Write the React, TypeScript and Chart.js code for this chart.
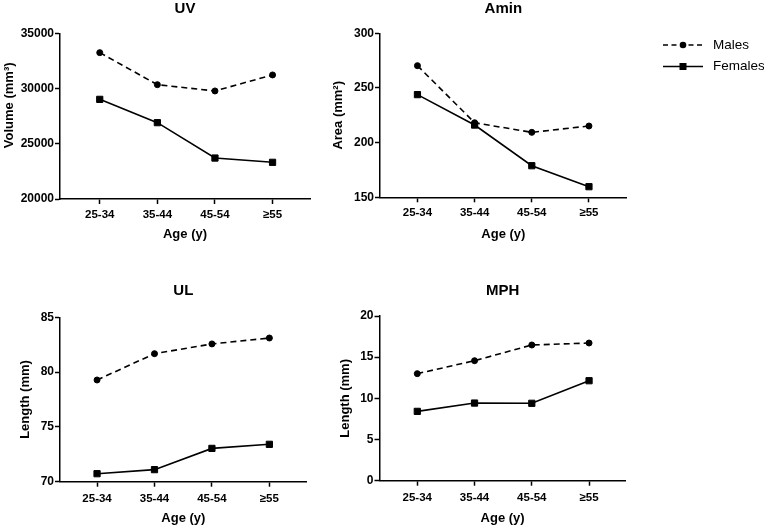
import React, { useEffect, useRef } from 'react';
import { Chart, registerables } from 'chart.js';

Chart.register(...registerables);

// ---- data ----
const ageGroups = ['25-34', '35-44', '45-54', '≥55'];

const uvMales = [33250, 30350, 29780, 31230];
const uvFemales = [29020, 26910, 23710, 23320];

const aminMales = [270.4, 218.2, 209.4, 215.2];
const aminFemales = [243.9, 216.1, 178.9, 159.7];

const ulMales = [79.28, 81.68, 82.57, 83.11];
const ulFemales = [70.73, 71.1, 73.04, 73.41];

const mphMales = [13.0, 14.57, 16.48, 16.72];
const mphFemales = [8.42, 9.43, 9.4, 12.14];

const seriesNames = ['Males', 'Females'];

// ---- layout / style ----
const FONT = "'Liberation Sans', Arial, Helvetica, sans-serif";

type PanelCfg = {
  title: string;
  yTitle: string;
  males: number[];
  females: number[];
  yMin: number;
  yMax: number;
  yStep: number;
  canvas: { left: number; top: number; w: number; h: number };
  area: { left: number; top: number; right: number; bottom: number };
  xMin: number;
  xMax: number;
  titleY: number;
  yTitleX: number;
  yTitleShift: number;
  xTitleY: number;
  xTickPad: number;
  legend?: boolean;
};

const panels: PanelCfg[] = [
  {
    title: 'UV', yTitle: 'Volume (mm³)', males: uvMales, females: uvFemales,
    yMin: 20000, yMax: 35000, yStep: 5000,
    canvas: { left: 0, top: 0, w: 320, h: 250 },
    area: { left: 60, top: 33.3, right: 310, bottom: 199 },
    xMin: -0.69, xMax: 3.65, titleY: 8.5, yTitleX: 9.5, yTitleShift: 6, xTitleY: 234, xTickPad: 3.5,
  },
  {
    title: 'Amin', yTitle: 'Area (mm²)', males: aminMales, females: aminFemales,
    yMin: 150, yMax: 300, yStep: 50,
    canvas: { left: 320, top: 0, w: 444, h: 250 },
    area: { left: 380, top: 33.3, right: 626.7, bottom: 197.3 },
    xMin: -0.655, xMax: 3.66, titleY: 8, yTitleX: 338, yTitleShift: 0, xTitleY: 234, xTickPad: 4, legend: true,
  },
  {
    title: 'UL', yTitle: 'Length (mm)', males: ulMales, females: ulFemales,
    yMin: 70, yMax: 85, yStep: 5,
    canvas: { left: 0, top: 260, w: 320, h: 266 },
    area: { left: 60, top: 317.3, right: 306.7, bottom: 481.7 },
    xMin: -0.645, xMax: 3.65, titleY: 291.3, yTitleX: 25.5, yTitleShift: 0, xTitleY: 518, xTickPad: 5,
  },
  {
    title: 'MPH', yTitle: 'Length (mm)', males: mphMales, females: mphFemales,
    yMin: 0, yMax: 20, yStep: 5,
    canvas: { left: 320, top: 260, w: 444, h: 266 },
    area: { left: 379.5, top: 316, right: 625.7, bottom: 480.7 },
    xMin: -0.66, xMax: 3.64, titleY: 290.5, yTitleX: 345.5, yTitleShift: 0, xTitleY: 518, xTickPad: 5,
  },
];

function makeLegendPlugin(offsetX: number, offsetY: number) {
  return {
    id: 'customLegend',
    afterDraw(chart: any) {
      const ctx: CanvasRenderingContext2D = chart.ctx;
      const x0 = 663 - offsetX;
      const x1 = 703 - offsetX;
      const xm = (x0 + x1) / 2;
      const rows = [45 - offsetY, 66.5 - offsetY];
      ctx.save();
      ctx.strokeStyle = '#000';
      ctx.fillStyle = '#000';
      ctx.lineWidth = 1.5;
      rows.forEach((y, i) => {
        ctx.beginPath();
        ctx.setLineDash(i === 0 ? [5, 3.5] : []);
        ctx.moveTo(x0, y);
        ctx.lineTo(x1, y);
        ctx.stroke();
        ctx.setLineDash([]);
        ctx.beginPath();
        if (i === 0) {
          ctx.arc(xm, y, 3.3, 0, Math.PI * 2);
          ctx.fill();
        } else {
          ctx.fillRect(xm - 3.5, y - 3.5, 7, 7);
        }
        ctx.font = `13.5px ${FONT}`;
        ctx.textBaseline = 'middle';
        ctx.textAlign = 'left';
        ctx.fillText(seriesNames[i], 713 - offsetX, y);
      });
      ctx.restore();
    },
  };
}

function Panel({ p }: { p: PanelCfg }) {
  const ref = useRef<HTMLCanvasElement>(null);
  useEffect(() => {
    if (!ref.current) return;
    const c = p.canvas;
    const a = p.area;
    const padRight = c.w - (a.right - c.left);
    const yWidth = a.left - c.left;
    const xHeight = c.top + c.h - a.bottom;
    const titleLH = 15 * 1.2;
    const tPadTop = Math.max(0, p.titleY - c.top - titleLH / 2);
    const tPadBottom = a.top - c.top - titleLH - tPadTop;
    const axLH = 13 * 1.2;
    const xTitlePadBottom = c.top + c.h - p.xTitleY - axLH / 2;
    const yTitlePadTop = p.yTitleX - c.left - axLH / 2;
    const yTitleText = ' '.repeat(p.yTitleShift) + p.yTitle;

    const chart = new Chart(ref.current, {
      type: 'line',
      data: {
        datasets: [
          {
            label: seriesNames[0],
            data: p.males.map((y, i) => ({ x: i, y })),
            borderColor: '#000',
            backgroundColor: '#000',
            borderWidth: 1.6,
            borderDash: [6, 4],
            pointStyle: 'circle',
            pointRadius: 3,
            pointBorderWidth: 1,
            tension: 0,
          },
          {
            label: seriesNames[1],
            data: p.females.map((y, i) => ({ x: i, y })),
            borderColor: '#000',
            backgroundColor: '#000',
            borderWidth: 1.6,
            pointStyle: 'rect',
            pointRadius: 4.4,
            pointBorderWidth: 1,
            tension: 0,
          },
        ],
      },
      options: {
        animation: false,
        responsive: false,
        maintainAspectRatio: false,
        layout: { padding: { left: 0, top: 0, bottom: 0, right: padRight } },
        plugins: {
          legend: { display: false },
          tooltip: { enabled: false },
          title: {
            display: true,
            text: p.title,
            fullSize: false,
            color: '#000',
            font: { family: FONT, size: 15, weight: 'bold', lineHeight: 1.2 },
            padding: { top: tPadTop, bottom: tPadBottom },
          },
        },
        scales: {
          x: {
            type: 'linear',
            min: p.xMin,
            max: p.xMax,
            afterBuildTicks: (scale: any) => {
              scale.ticks = ageGroups.map((_, i) => ({ value: i }));
            },
            afterFit: (scale: any) => {
              scale.height = xHeight;
            },
            grid: {
              display: true,
              drawOnChartArea: false,
              drawTicks: true,
              tickLength: 5,
              tickWidth: 1.5,
              tickColor: '#000',
            },
            border: { display: true, color: '#000', width: 1.5 },
            ticks: {
              autoSkip: false,
              maxRotation: 0,
              minRotation: 0,
              padding: p.xTickPad,
              color: '#000',
              font: { family: FONT, size: 11.5, weight: 'bold' },
              callback: (v: any) => ageGroups[Math.round(Number(v))] ?? '',
            },
            title: {
              display: true,
              text: 'Age (y)',
              color: '#000',
              font: { family: FONT, size: 13, weight: 'bold', lineHeight: 1.2 },
              padding: { top: 0, bottom: xTitlePadBottom },
            },
          },
          y: {
            type: 'linear',
            min: p.yMin,
            max: p.yMax,
            afterFit: (scale: any) => {
              scale.width = yWidth;
            },
            grid: {
              display: true,
              drawOnChartArea: false,
              drawTicks: true,
              tickLength: 5,
              tickWidth: 1.5,
              tickColor: '#000',
            },
            border: { display: true, color: '#000', width: 1.5 },
            ticks: {
              stepSize: p.yStep,
              padding: 1,
              color: '#000',
              font: { family: FONT, size: 12, weight: 'bold' },
              callback: (v: any) => String(v),
            },
            title: {
              display: true,
              text: yTitleText,
              color: '#000',
              font: { family: FONT, size: 13, weight: 'bold', lineHeight: 1.2 },
              padding: { top: yTitlePadTop, bottom: 0 },
            },
          },
        },
      },
      plugins: p.legend ? [makeLegendPlugin(c.left, c.top)] : [],
    } as any);
    return () => chart.destroy();
  }, [p]);

  return (
    <canvas
      ref={ref}
      width={p.canvas.w}
      height={p.canvas.h}
      style={{
        position: 'absolute',
        left: p.canvas.left,
        top: p.canvas.top,
        width: p.canvas.w,
        height: p.canvas.h,
      }}
    />
  );
}

export default function App() {
  return (
    <div
      style={{
        position: 'absolute',
        left: 0,
        top: 0,
        width: 764,
        height: 526,
        background: '#fff',
        overflow: 'hidden',
      }}
    >
      {panels.map((p) => (
        <Panel key={p.title} p={p} />
      ))}
    </div>
  );
}
